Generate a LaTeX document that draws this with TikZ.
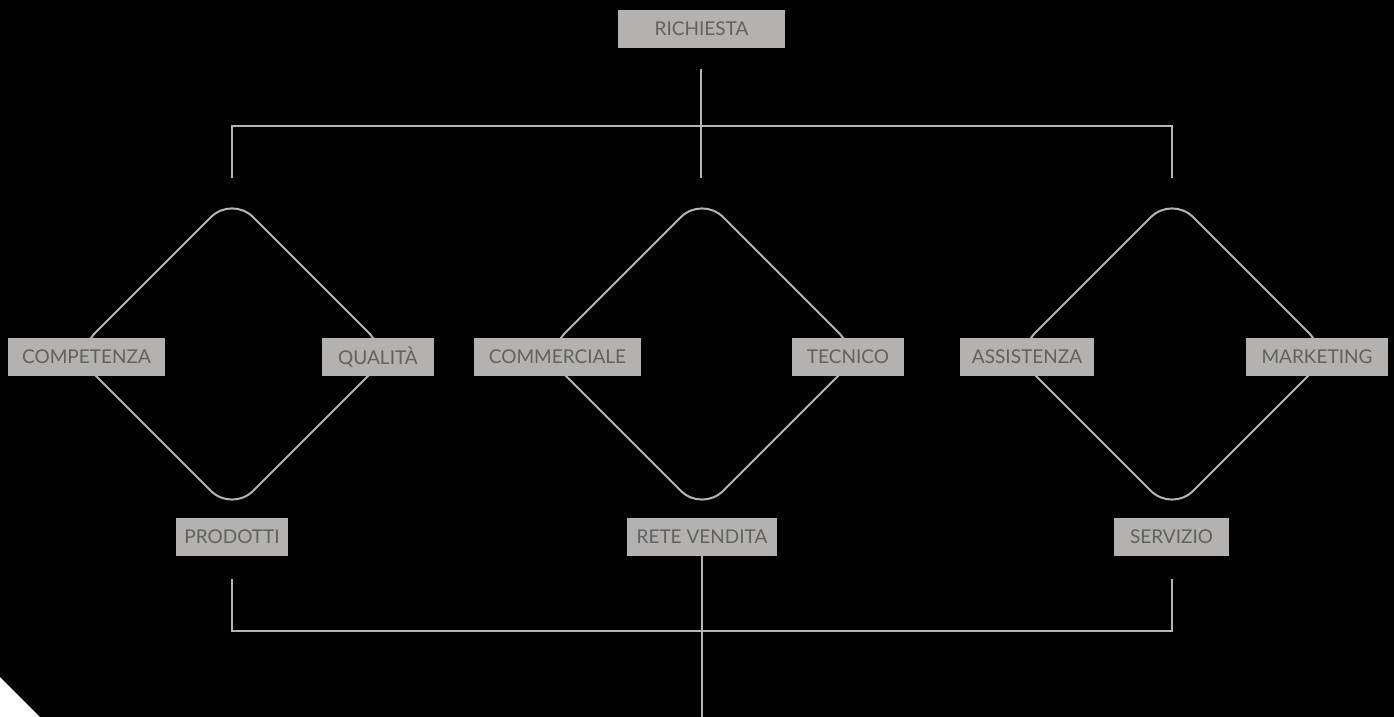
\documentclass[tikz,border=0pt]{standalone}
\usepackage{fontspec}
\setmainfont{Lato}
\definecolor{boxfill}{HTML}{B3B2B0}
\definecolor{boxtext}{HTML}{616161}
\definecolor{linec}{HTML}{B5B5B5}
\tikzset{
  lbl/.style={fill=boxfill, text=boxtext, inner sep=0pt, minimum height=38pt, font=\fontsize{19}{19}\selectfont, anchor=center},
  conn/.style={draw=linec, line width=2pt},
  diam/.style={draw=linec, line width=2pt, rounded corners=30pt}
}
\begin{document}
\begin{tikzpicture}[x=1pt,y=-1pt]
\fill[black] (0,0) rectangle (1394,717);
\useasboundingbox (0,0) rectangle (1394,717);
\fill[white] (0,677) -- (40,717) -- (0,717) -- cycle;

% diamonds
\foreach \c in {232,702,1172}{
  \draw[diam] (\c,196) -- (\c+158,354) -- (\c,512) -- (\c-158,354) -- cycle;
}

% coordinates for connectors
\coordinate (ttop) at (701,69);
\coordinate (tmid) at (701,178);
\coordinate (tl) at (232,178);
\coordinate (tr) at (1172,178);
\coordinate (hl) at (232,126);
\coordinate (hr) at (1172,126);
\coordinate (bl) at (232,579);
\coordinate (br) at (1172,579);
\coordinate (bhl) at (232,631);
\coordinate (bhr) at (1172,631);
\coordinate (bend) at (702,717);

\draw[conn] (ttop) -- (tmid);
\draw[conn] (tl) -- (hl) -- (hr) -- (tr);
\draw[conn] (bl) -- (bhl) -- (bhr) -- (br);

% labels
\node[lbl, minimum width=167pt] (richiesta) at (701.5,29) {RICHIESTA};
\node[lbl, minimum width=157pt] (competenza) at (86.5,357) {COMPETENZA};
\node[lbl, minimum width=112pt] (qualita) at (378,357) {QUALITÀ};
\node[lbl, minimum width=167pt] (commerciale) at (557.5,357) {COMMERCIALE};
\node[lbl, minimum width=112pt] (tecnico) at (848,357) {TECNICO};
\node[lbl, minimum width=134pt] (assistenza) at (1027,357) {ASSISTENZA};
\node[lbl, minimum width=142pt] (marketing) at (1317,357) {MARKETING};
\node[lbl, minimum width=112pt] (prodotti) at (232,537) {PRODOTTI};
\node[lbl, minimum width=150pt] (rete) at (702,537) {RETE VENDITA};
\node[lbl, minimum width=115pt] (servizio) at (1171.5,537) {SERVIZIO};

\draw[conn] (rete.south) -- (bend);
\end{tikzpicture}
\end{document}
